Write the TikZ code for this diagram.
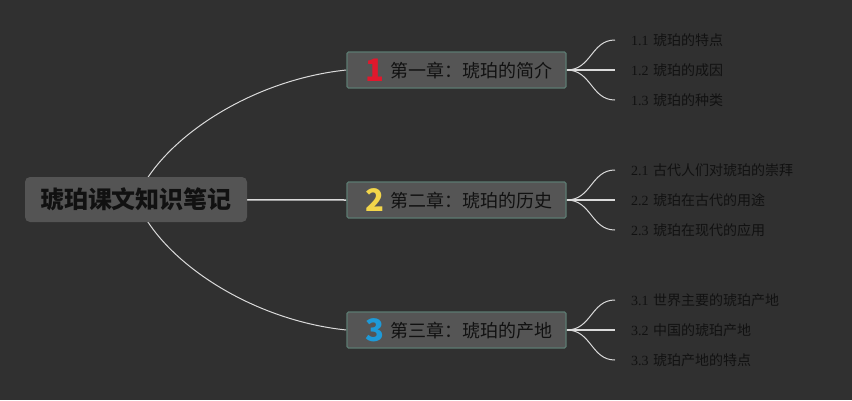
\documentclass[tikz,border=0pt]{standalone}
\usepackage{fontspec}
\setmainfont{Liberation Serif}
\newfontfamily\cjk{Noto Sans CJK SC}
\usetikzlibrary{backgrounds,calc}
\definecolor{bgc}{HTML}{303030}
\definecolor{boxc}{HTML}{555555}
\definecolor{rootc}{HTML}{545454}
\definecolor{bordc}{HTML}{5C7A71}
\definecolor{linec}{HTML}{DADADA}
\definecolor{txtc}{HTML}{111111}
\definecolor{numred}{HTML}{E0182D}
\definecolor{numyel}{HTML}{F3D64A}
\definecolor{numblu}{HTML}{1E9AD8}
\tikzset{
  rootbox/.style={fill=rootc, rounded corners=5pt, minimum width=222pt, minimum height=45pt, inner sep=0pt,
    text=txtc, font=\cjk\bfseries\fontsize{24}{28}\selectfont},
  chapbox/.style={fill=boxc, draw=bordc, line width=1.3pt, rounded corners=1.5pt, minimum width=219pt, minimum height=36pt, inner sep=0pt},
  numtxt/.style={inner sep=0pt, font=\cjk\bfseries\fontsize{31}{34}\selectfont},
  chaptxt/.style={inner sep=0pt, anchor=west, text=txtc, font=\cjk\fontsize{18}{22}\selectfont},
  leaftxt/.style={anchor=west, inner xsep=16pt, inner ysep=0pt, text=txtc, font=\fontsize{14}{17}\selectfont},
  mainlink/.style={draw=linec, line width=1pt},
  leaflink/.style={draw=linec, line width=1pt},
  midlink/.style={draw=linec, line width=1.7pt},
}
\newcommand{\leafnum}[2]{#1\hspace{4.5pt}{\cjk #2}}
\begin{document}
\begin{tikzpicture}[x=1pt,y=-1pt]
\begin{pgfonlayer}{background}
\fill[bgc] (0,0) rectangle (852,400);
\end{pgfonlayer}
\useasboundingbox (0,0) rectangle (852,400);

\node[rootbox] (root) at (136,199.5) {琥珀课文知识笔记};

\node[chapbox] (c1) at (456.5,70) {};
\node[chapbox] (c2) at (456.5,200) {};
\node[chapbox] (c3) at (456.5,330) {};

\node[numtxt, text=numred] (n1) at (375,70) {1};
\node[numtxt, text=numyel] (n2) at (375,200) {2};
\node[numtxt, text=numblu] (n3) at (375,330) {3};

\node[chaptxt] (t1) at (390,70.5) {第一章：琥珀的简介};
\node[chaptxt] (t2) at (390,200.5) {第二章：琥珀的历史};
\node[chaptxt] (t3) at (390,330.5) {第三章：琥珀的产地};

\node[leaftxt] (l11) at (615,40) {\leafnum{1.1}{琥珀的特点}};
\node[leaftxt] (l12) at (615,70) {\leafnum{1.2}{琥珀的成因}};
\node[leaftxt] (l13) at (615,100) {\leafnum{1.3}{琥珀的种类}};
\node[leaftxt] (l21) at (615,170) {\leafnum{2.1}{古代人们对琥珀的崇拜}};
\node[leaftxt] (l22) at (615,200) {\leafnum{2.2}{琥珀在古代的用途}};
\node[leaftxt] (l23) at (615,230) {\leafnum{2.3}{琥珀在现代的应用}};
\node[leaftxt] (l31) at (615,300) {\leafnum{3.1}{世界主要的琥珀产地}};
\node[leaftxt] (l32) at (615,330) {\leafnum{3.2}{中国的琥珀产地}};
\node[leaftxt] (l33) at (615,360) {\leafnum{3.3}{琥珀产地的特点}};

\begin{pgfonlayer}{background}
\draw[mainlink] (root.center) .. controls (160,140) and (250,80) .. (c1.west);
\draw[mainlink, line width=1.5pt] (root.center) -- (c2.west);
\draw[mainlink] (root.center) .. controls (160,260) and (250,320) .. (c3.west);
\foreach \c/\a/\b/\d in {c1/l11/l12/l13, c2/l21/l22/l23, c3/l31/l32/l33}{
  \draw[leaflink] (\c.east) .. controls ++(25,0) and ($(\a.west)+(-24,0)$) .. (\a.west);
  \draw[midlink] (\c.east) -- (\b.west);
  \draw[leaflink] (\c.east) .. controls ++(25,0) and ($(\d.west)+(-24,0)$) .. (\d.west);
}
\end{pgfonlayer}
\end{tikzpicture}
\end{document}
